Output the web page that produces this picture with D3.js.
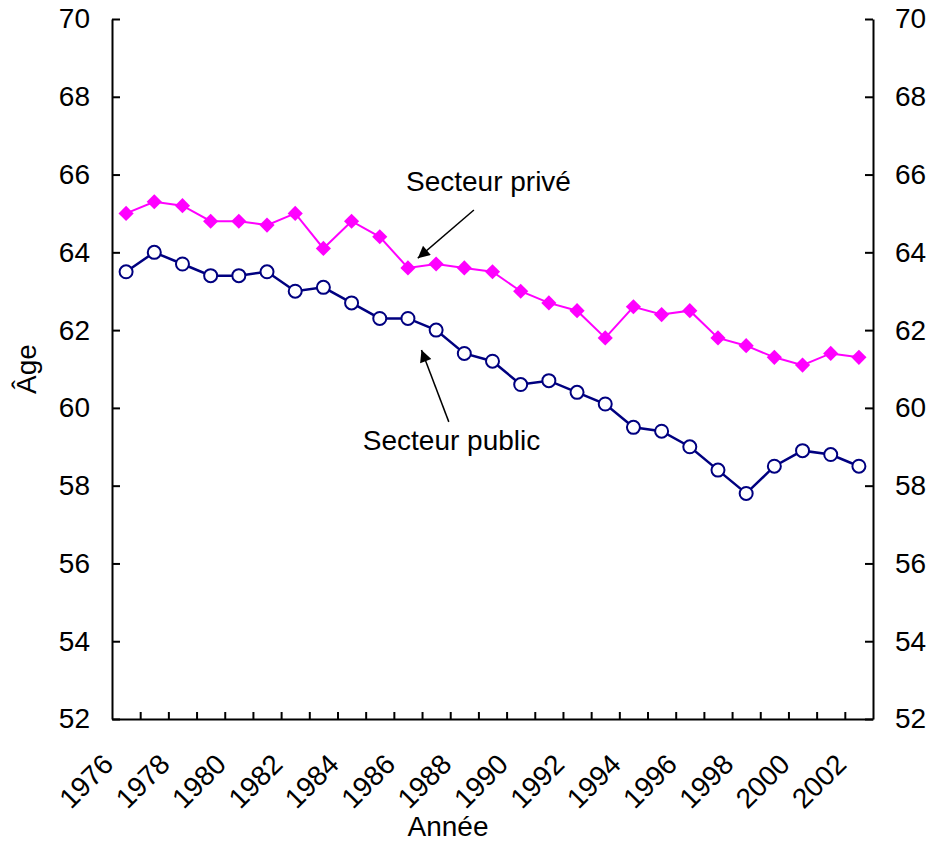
<!DOCTYPE html>
<html>
<head>
<meta charset="utf-8">
<script src="https://cdn.jsdelivr.net/npm/d3@7"></script>
<style>
  body { margin: 0; background: #fff; }
  svg { font-family: "Liberation Sans", Arial, sans-serif; }
</style>
</head>
<body>
<svg id="chart" width="931" height="844"></svg>
<script>
// années (catégories) et âges moyens
const years = d3.range(1976, 2003);
const prive = [65.0, 65.3, 65.2, 64.8, 64.8, 64.7, 65.0, 64.1, 64.8, 64.4,
  63.6, 63.7, 63.6, 63.5, 63.0, 62.7, 62.5, 61.8, 62.6, 62.4,
  62.5, 61.8, 61.6, 61.3, 61.1, 61.4, 61.3];
const public_ = [63.5, 64.0, 63.7, 63.4, 63.4, 63.5, 63.0, 63.1, 62.7, 62.3,
  62.3, 62.0, 61.4, 61.2, 60.6, 60.7, 60.4, 60.1, 59.5, 59.4,
  59.0, 58.4, 57.8, 58.5, 58.9, 58.8, 58.5];
const yTicks = d3.range(52, 71, 2);
const xLabels = d3.range(1976, 2003, 2);

const width = 931, height = 844;
const margin = { top: 19, right: 58, bottom: 125, left: 112 };

const svg = d3.select("#chart");

// axe des catégories : une bande par année, graduations entre les années
const x = d3.scaleLinear()
  .domain([years[0] - 0.5, years[years.length - 1] + 0.5])
  .range([margin.left, width - margin.right]);
const y = d3.scaleLinear()
  .domain([52, 70])
  .range([height - margin.bottom, margin.top]);

svg.append("defs").append("marker")
    .attr("id", "head")
    .attr("viewBox", "0 0 10 10")
    .attr("refX", 10).attr("refY", 5)
    .attr("markerWidth", 15).attr("markerHeight", 12)
    .attr("markerUnits", "userSpaceOnUse")
    .attr("orient", "auto")
  .append("path")
    .attr("d", "M0,0L10,5L0,10z")
    .attr("fill", "#000");

const fixAxis = g => {
  g.select(".domain").attr("stroke-width", 2);
  g.selectAll(".tick line").attr("stroke-width", 2);
  g.selectAll("text").attr("font-size", 28).attr("fill", "#000");
};

// axe Y gauche
svg.append("g")
  .attr("transform", `translate(${margin.left},0)`)
  .call(d3.axisLeft(y).tickValues(yTicks).tickSize(-8).tickSizeOuter(0).tickPadding(22))
  .call(fixAxis);

// axe Y droit
svg.append("g")
  .attr("transform", `translate(${width - margin.right},0)`)
  .call(d3.axisRight(y).tickValues(yTicks).tickSize(-8).tickSizeOuter(0).tickPadding(22))
  .call(fixAxis);

// axe X (graduations)
svg.append("g")
  .attr("transform", `translate(0,${height - margin.bottom})`)
  .call(d3.axisBottom(x).tickValues(d3.range(years[0] + 0.5, years[years.length - 1], 1))
    .tickSize(-7).tickSizeOuter(0).tickFormat(""))
  .call(fixAxis);

// étiquettes inclinées des années
svg.append("g")
  .selectAll("text")
  .data(xLabels)
  .join("text")
    .attr("transform", d => `translate(${x(d) - 11},${height - margin.bottom + 47}) rotate(-45)`)
    .attr("text-anchor", "end")
    .attr("font-size", 28)
    .text(d => d);

svg.append("text")
  .attr("x", 448).attr("y", 836)
  .attr("text-anchor", "middle")
  .attr("font-size", 28)
  .text("Année");

svg.append("text")
  .attr("transform", `translate(36,${(y(52) + y(70)) / 2}) rotate(-90)`)
  .attr("text-anchor", "middle")
  .attr("font-size", 28)
  .text("Âge");

const line = d3.line()
  .x((d, i) => x(years[i]))
  .y(d => y(d));

// secteur public : cercles vides bleu marine
svg.append("path")
  .datum(public_)
  .attr("fill", "none")
  .attr("stroke", "#000080")
  .attr("stroke-width", 2.5)
  .attr("d", line);

svg.append("g")
  .selectAll("circle")
  .data(public_)
  .join("circle")
    .attr("cx", (d, i) => x(years[i]))
    .attr("cy", d => y(d))
    .attr("r", 6.5)
    .attr("fill", "#fff")
    .attr("stroke", "#000080")
    .attr("stroke-width", 2);

// secteur privé : losanges magenta
svg.append("path")
  .datum(prive)
  .attr("fill", "none")
  .attr("stroke", "#ff00ff")
  .attr("stroke-width", 2)
  .attr("d", line);

svg.append("g")
  .selectAll("path")
  .data(prive)
  .join("path")
    .attr("transform", (d, i) => `translate(${x(years[i])},${y(d)}) rotate(45)`)
    .attr("d", d3.symbol(d3.symbolSquare, 115))
    .attr("fill", "#ff00ff");

// annotations
const notes = [
  { text: "Secteur privé", tx: 1985.93, ty: 65.58, from: [1988.34, 65.09], to: [1986.35, 63.85] },
  { text: "Secteur public", tx: 1984.4, ty: 58.92, from: [1987.45, 59.64], to: [1986.48, 61.49] }
];

svg.append("g")
  .selectAll("line")
  .data(notes)
  .join("line")
    .attr("x1", d => x(d.from[0])).attr("y1", d => y(d.from[1]))
    .attr("x2", d => x(d.to[0])).attr("y2", d => y(d.to[1]))
    .attr("stroke", "#000")
    .attr("stroke-width", 1.5)
    .attr("marker-end", "url(#head)");

svg.append("g")
  .selectAll("text")
  .data(notes)
  .join("text")
    .attr("x", d => x(d.tx)).attr("y", d => y(d.ty))
    .attr("font-size", 28)
    .text(d => d.text);
</script>
</body>
</html>
